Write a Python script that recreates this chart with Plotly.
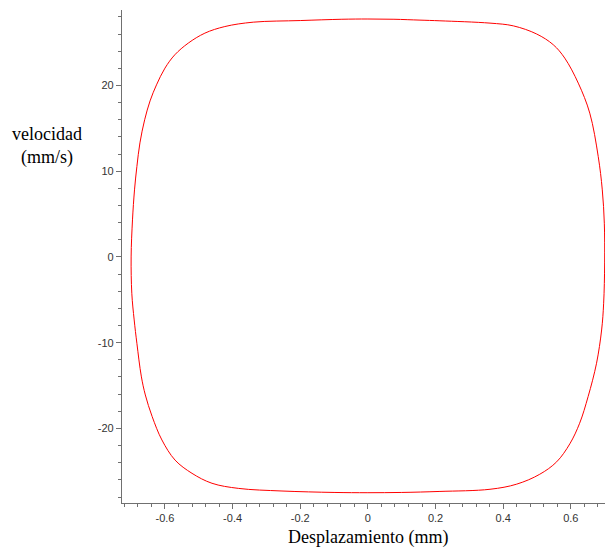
import plotly.graph_objects as go

# Limit cycle in the phase plane: displacement (mm) vs velocity (mm/s)
desplazamiento = [
    -0.700, -0.696, -0.690, -0.683, -0.674, -0.660, -0.644, -0.625, -0.600, -0.571,
    -0.531, -0.482, -0.423, -0.339, -0.200, -0.077, 0.000, 0.077, 0.154, 0.213,
    0.361, 0.430, 0.499, 0.548, 0.582, 0.622, 0.656, 0.681, 0.693, 0.699,
    0.700, 0.697, 0.691, 0.676, 0.651, 0.626, 0.597, 0.558, 0.508, 0.440,
    0.361, 0.213, 0.100, 0.000, -0.100, -0.254, -0.382, -0.461, -0.520, -0.570,
    -0.609, -0.638, -0.658, -0.670, -0.683, -0.691, -0.698, -0.700,
]
velocidad = [
    0.0, 4.32, 7.82, 10.54, 13.3, 16.0, 18.2, 20.07, 22.02, 23.57,
    24.94, 26.1, 26.87, 27.38, 27.57, 27.72, 27.75, 27.72, 27.62, 27.54,
    27.27, 26.95, 26.0, 24.75, 23.19, 20.27, 16.77, 11.7, 7.82, 3.93,
    -0.7, -5.4, -8.52, -12.4, -16.3, -19.4, -21.8, -23.9, -25.35, -26.5,
    -27.1, -27.35, -27.47, -27.5, -27.47, -27.3, -27.0, -26.4, -25.24, -23.7,
    -21.35, -18.6, -16.1, -13.9, -10.07, -7.35, -4.24, 0.0,
]

x_tickvals = [-0.6, -0.4, -0.2, 0.0, 0.2, 0.4, 0.6]
x_ticktext = ["-0.6", "-0.4", "-0.2", "0", "0.2", "0.4", "0.6"]
y_tickvals = [-20, -10, 0, 10, 20]
y_ticktext = ["-20", "-10", "0", "10", "20"]

axis_color = "#707070"
tick_font = dict(family="Liberation Sans, Arial, sans-serif", size=11, color="#333333")
title_font = dict(family="Liberation Serif, Times New Roman, serif", size=18, color="#000000")

fig = go.Figure()
fig.add_trace(go.Scatter(
    x=desplazamiento, y=velocidad, mode="lines",
    line=dict(color="#ff0000", width=1, shape="spline", smoothing=1.0),
    hoverinfo="skip", showlegend=False,
))

fig.update_layout(
    width=605, height=549,
    margin=dict(l=122, r=0, t=10, b=46),
    paper_bgcolor="white", plot_bgcolor="white",
    xaxis=dict(
        range=[-0.727, 0.701], showgrid=False, zeroline=False,
        showline=True, linecolor=axis_color, linewidth=1.3,
        ticks="outside", ticklen=5, tickcolor=axis_color, tickwidth=1,
        tickvals=x_tickvals, ticktext=x_ticktext, tickfont=tick_font,
        minor=dict(dtick=0.04, tick0=0, ticks="outside", ticklen=3,
                   tickcolor=axis_color, showgrid=False),
    ),
    yaxis=dict(
        range=[-28.7, 28.8], showgrid=False, zeroline=False,
        showline=True, linecolor=axis_color, linewidth=1.3,
        ticks="outside", ticklen=5, tickcolor=axis_color, tickwidth=1,
        tickvals=y_tickvals, ticktext=y_ticktext, tickfont=tick_font,
        minor=dict(dtick=2, tick0=0, ticks="outside", ticklen=3,
                   tickcolor=axis_color, showgrid=False),
    ),
    annotations=[
        dict(text="velocidad<br>(mm/s)", xref="paper", yref="paper",
             x=(47 - 122) / 483, y=(503 - 146) / 493,
             xanchor="center", yanchor="middle", showarrow=False,
             font=title_font, align="center"),
        dict(text="Desplazamiento (mm)", xref="x", yref="paper",
             x=0.0, y=(503 - 537) / 493,
             xanchor="center", yanchor="middle", showarrow=False,
             font=title_font),
    ],
)

fig.write_html("out.html")
